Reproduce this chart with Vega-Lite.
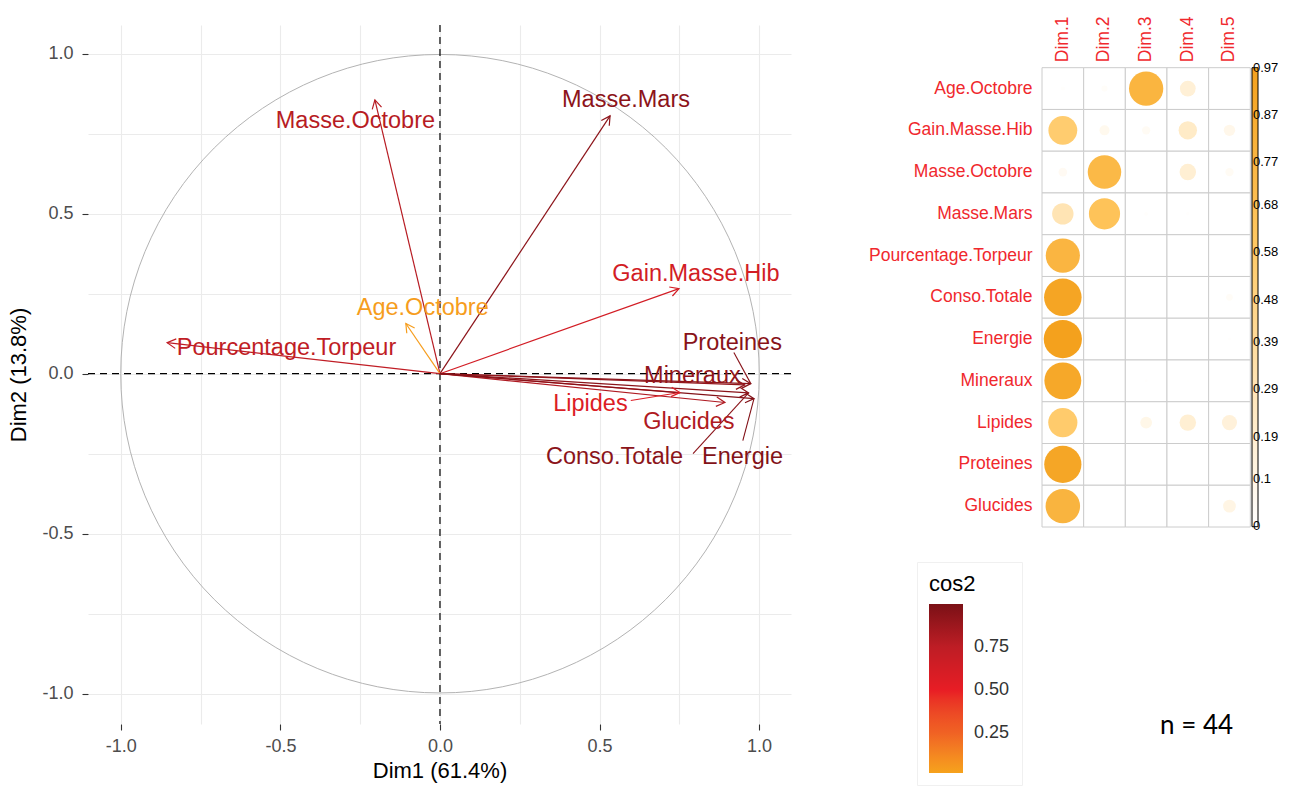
{
  "$schema": "https://vega.github.io/schema/vega-lite/v6.json",
  "background": "white",
  "padding": {"left": 7, "top": 16, "right": 5, "bottom": 2},
  "bounds": "flush",
  "spacing": 251,
  "config": {
    "view": {"stroke": null},
    "font": "Liberation Sans",
    "axis": {"labelFont": "Liberation Sans", "titleFont": "Liberation Sans"},
    "legend": {"labelFont": "Liberation Sans", "titleFont": "Liberation Sans"}
  },
  "resolve": {
    "scale": {"color": "independent", "size": "independent", "fill": "independent", "stroke": "independent"},
    "legend": {"color": "independent", "size": "independent", "fill": "independent", "stroke": "independent"}
  },
  "datasets": {
    "arrows": [
      {"name": "Masse.Octobre", "x": -0.204, "y": 0.856, "cos2": 0.775, "lx": -0.265, "ly": 0.791},
      {"name": "Masse.Mars", "x": 0.533, "y": 0.806, "cos2": 0.934, "lx": 0.583, "ly": 0.856},
      {"name": "Gain.Masse.Hib", "x": 0.749, "y": 0.266, "cos2": 0.632, "lx": 0.802, "ly": 0.3125},
      {"name": "Age.Octobre", "x": -0.107, "y": 0.157, "cos2": 0.036, "lx": -0.054, "ly": 0.206},
      {"name": "Pourcentage.Torpeur", "x": -0.855, "y": 0.097, "cos2": 0.74, "lx": -0.481, "ly": 0.081},
      {"name": "Proteines", "x": 0.974, "y": -0.031, "cos2": 0.95, "lx": 0.916, "ly": 0.097, "sx": 0.921, "sy": 0.066},
      {"name": "Mineraux", "x": 0.955, "y": -0.035, "cos2": 0.913, "lx": 0.791, "ly": -0.006},
      {"name": "Lipides", "x": 0.752, "y": -0.059, "cos2": 0.569, "lx": 0.4715, "ly": -0.094, "sx": 0.598, "sy": -0.084},
      {"name": "Glucides", "x": 0.893, "y": -0.09, "cos2": 0.805, "lx": 0.78, "ly": -0.15},
      {"name": "Conso.Totale", "x": 0.967, "y": -0.06, "cos2": 0.939, "lx": 0.547, "ly": -0.259, "sx": 0.793, "sy": -0.25},
      {"name": "Energie", "x": 0.984, "y": -0.078, "cos2": 0.974, "lx": 0.948, "ly": -0.259, "sx": 0.949, "sy": -0.209}
    ],
    "corr": [
      {"var": "Age.Octobre", "dim": "Dim.1", "value": 0.011},
      {"var": "Age.Octobre", "dim": "Dim.2", "value": 0.025},
      {"var": "Age.Octobre", "dim": "Dim.3", "value": 0.78},
      {"var": "Age.Octobre", "dim": "Dim.4", "value": 0.165},
      {"var": "Age.Octobre", "dim": "Dim.5", "value": 0},
      {"var": "Gain.Masse.Hib", "dim": "Dim.1", "value": 0.553},
      {"var": "Gain.Masse.Hib", "dim": "Dim.2", "value": 0.067},
      {"var": "Gain.Masse.Hib", "dim": "Dim.3", "value": 0.046},
      {"var": "Gain.Masse.Hib", "dim": "Dim.4", "value": 0.225},
      {"var": "Gain.Masse.Hib", "dim": "Dim.5", "value": 0.086},
      {"var": "Masse.Octobre", "dim": "Dim.1", "value": 0.05},
      {"var": "Masse.Octobre", "dim": "Dim.2", "value": 0.745},
      {"var": "Masse.Octobre", "dim": "Dim.3", "value": 0},
      {"var": "Masse.Octobre", "dim": "Dim.4", "value": 0.18},
      {"var": "Masse.Octobre", "dim": "Dim.5", "value": 0.046},
      {"var": "Masse.Mars", "dim": "Dim.1", "value": 0.305},
      {"var": "Masse.Mars", "dim": "Dim.2", "value": 0.646},
      {"var": "Masse.Mars", "dim": "Dim.3", "value": 0.01},
      {"var": "Masse.Mars", "dim": "Dim.4", "value": 0.008},
      {"var": "Masse.Mars", "dim": "Dim.5", "value": 0},
      {"var": "Pourcentage.Torpeur", "dim": "Dim.1", "value": 0.777},
      {"var": "Pourcentage.Torpeur", "dim": "Dim.2", "value": 0},
      {"var": "Pourcentage.Torpeur", "dim": "Dim.3", "value": 0},
      {"var": "Pourcentage.Torpeur", "dim": "Dim.4", "value": 0},
      {"var": "Pourcentage.Torpeur", "dim": "Dim.5", "value": 0},
      {"var": "Conso.Totale", "dim": "Dim.1", "value": 0.935},
      {"var": "Conso.Totale", "dim": "Dim.2", "value": 0},
      {"var": "Conso.Totale", "dim": "Dim.3", "value": 0},
      {"var": "Conso.Totale", "dim": "Dim.4", "value": 0},
      {"var": "Conso.Totale", "dim": "Dim.5", "value": 0.03},
      {"var": "Energie", "dim": "Dim.1", "value": 0.97},
      {"var": "Energie", "dim": "Dim.2", "value": 0},
      {"var": "Energie", "dim": "Dim.3", "value": 0},
      {"var": "Energie", "dim": "Dim.4", "value": 0},
      {"var": "Energie", "dim": "Dim.5", "value": 0.006},
      {"var": "Mineraux", "dim": "Dim.1", "value": 0.905},
      {"var": "Mineraux", "dim": "Dim.2", "value": 0},
      {"var": "Mineraux", "dim": "Dim.3", "value": 0.006},
      {"var": "Mineraux", "dim": "Dim.4", "value": 0.005},
      {"var": "Mineraux", "dim": "Dim.5", "value": 0},
      {"var": "Lipides", "dim": "Dim.1", "value": 0.565},
      {"var": "Lipides", "dim": "Dim.2", "value": 0},
      {"var": "Lipides", "dim": "Dim.3", "value": 0.092},
      {"var": "Lipides", "dim": "Dim.4", "value": 0.18},
      {"var": "Lipides", "dim": "Dim.5", "value": 0.151},
      {"var": "Proteines", "dim": "Dim.1", "value": 0.92},
      {"var": "Proteines", "dim": "Dim.2", "value": 0},
      {"var": "Proteines", "dim": "Dim.3", "value": 0},
      {"var": "Proteines", "dim": "Dim.4", "value": 0},
      {"var": "Proteines", "dim": "Dim.5", "value": 0},
      {"var": "Glucides", "dim": "Dim.1", "value": 0.79},
      {"var": "Glucides", "dim": "Dim.2", "value": 0},
      {"var": "Glucides", "dim": "Dim.3", "value": 0.003},
      {"var": "Glucides", "dim": "Dim.4", "value": 0.005},
      {"var": "Glucides", "dim": "Dim.5", "value": 0.108}
    ]
  },
  "hconcat": [
    {
      "width": 703,
      "height": 699,
      "data": {"name": "arrows"},
      "layer": [
        {
          "data": {"values": [{}]},
          "mark": {"type": "point", "shape": "circle", "filled": false, "size": 407682, "stroke": "#B3B3B3", "strokeWidth": 1, "opacity": 1},
          "encoding": {
            "x": {"datum": 0, "type": "quantitative"},
            "y": {"datum": 0, "type": "quantitative"}
          }
        },
        {
          "data": {"values": [{}]},
          "mark": {"type": "rule", "color": "black", "strokeDash": [7, 5], "strokeWidth": 1.2},
          "encoding": {"x": {"datum": 0, "type": "quantitative"}}
        },
        {
          "data": {"values": [{}]},
          "mark": {"type": "rule", "color": "black", "strokeDash": [7, 5], "strokeWidth": 1.2},
          "encoding": {"y": {"datum": 0, "type": "quantitative"}}
        },
        {
          "mark": {"type": "rule", "strokeWidth": 1.2},
          "encoding": {
            "x": {
              "field": "x", "type": "quantitative", "title": "Dim1 (61.4%)",
              "scale": {"domain": [-1.103, 1.1], "nice": false, "zero": false},
              "axis": {
                "values": [-1, -0.75, -0.5, -0.25, 0, 0.25, 0.5, 0.75, 1],
                "labelExpr": "datum.value % 0.5 == 0 ? replace(format(datum.value, '.1f'), '\u2212', '-') : ''",
                "grid": true, "gridColor": "#EBEBEB", "gridWidth": 1.1,
                "domain": false,
                "tickColor": {"condition": {"test": "datum.value % 0.5 == 0", "value": "#333333"}, "value": "transparent"},
                "tickSize": 6, "tickWidth": 1.1,
                "labelFontSize": 18, "labelColor": "#4D4D4D", "labelPadding": 7,
                "labelFlush": false, "labelOverlap": false,
                "titleFontSize": 22, "titleFontWeight": "normal", "titleColor": "black", "titlePadding": 5
              }
            },
            "y": {
              "field": "y", "type": "quantitative", "title": "Dim2 (13.8%)",
              "scale": {"domain": [-1.095, 1.09], "nice": false, "zero": false},
              "axis": {
                "values": [-1, -0.75, -0.5, -0.25, 0, 0.25, 0.5, 0.75, 1],
                "labelExpr": "datum.value % 0.5 == 0 ? replace(format(datum.value, '.1f'), '\u2212', '-') : ''",
                "grid": true, "gridColor": "#EBEBEB", "gridWidth": 1.1,
                "domain": false,
                "tickColor": {"condition": {"test": "datum.value % 0.5 == 0", "value": "#333333"}, "value": "transparent"},
                "tickSize": 6, "tickWidth": 1.1,
                "labelFontSize": 18, "labelColor": "#4D4D4D", "labelPadding": 9,
                "labelFlush": false, "labelOverlap": false,
                "titleFontSize": 22, "titleFontWeight": "normal", "titleColor": "black", "titlePadding": 11
              }
            },
            "x2": {"datum": 0},
            "y2": {"datum": 0},
            "stroke": {
              "field": "cos2", "type": "quantitative",
              "scale": {"domain": [0.017, 0.25, 0.5, 0.75, 1.0], "range": ["#F6A21C", "#F06224", "#E81D25", "#BE1D25", "#7B1116"], "interpolate": "lab"},
              "legend": null
            }
          }
        },
        {
          "transform": [{"calculate": "atan2(datum.x, datum.y) * 180 / PI", "as": "ang"}],
          "mark": {"type": "point", "shape": "M -0.55 1 L 0 0 L 0.55 1", "filled": false, "size": 300, "strokeWidth": 1.2, "opacity": 1},
          "encoding": {
            "x": {"field": "x", "type": "quantitative"},
            "y": {"field": "y", "type": "quantitative"},
            "angle": {"field": "ang", "type": "quantitative", "scale": null},
            "stroke": {"field": "cos2", "type": "quantitative", "legend": null}
          }
        },
        {
          "transform": [{"filter": "isValid(datum.sx)"}],
          "mark": {"type": "rule", "strokeWidth": 1.1},
          "encoding": {
            "x": {"field": "sx", "type": "quantitative"},
            "y": {"field": "sy", "type": "quantitative"},
            "x2": {"field": "x"},
            "y2": {"field": "y"},
            "stroke": {"field": "cos2", "type": "quantitative", "legend": null}
          }
        },
        {
          "mark": {"type": "text", "fontSize": 23.5, "font": "Liberation Sans", "baseline": "middle", "align": "center"},
          "encoding": {
            "x": {"field": "lx", "type": "quantitative"},
            "y": {"field": "ly", "type": "quantitative"},
            "text": {"field": "name"},
            "fill": {
              "field": "cos2", "type": "quantitative",
              "scale": {"domain": [0.0171, 0.25, 0.5, 0.75, 1.0], "range": ["#F6A21C", "#F06224", "#E81D25", "#BE1D25", "#7B1116"], "interpolate": "lab"},
              "legend": {
                "type": "gradient",
                "orient": "none", "legendX": 829, "legendY": 537, "direction": "vertical",
                "title": "cos2", "titleFontSize": 22, "titleFontWeight": "normal", "titleColor": "black", "titlePadding": 8,
                "gradientLength": 169, "gradientThickness": 34, "gradientStrokeWidth": 0,
                "values": [0.25, 0.5, 0.75], "format": ".2f",
                "labelFontSize": 18, "labelColor": "#333333", "labelOffset": 11, "labelOverlap": false,
                "padding": 12, "strokeColor": "#F0F0F0"
              }
            }
          }
        }
      ]
    },
    {
      "width": 208.3,
      "height": 502,
      "data": {"name": "corr"},
      "title": {"text": "n = 44", "orient": "bottom", "anchor": "start", "frame": "group", "baseline": "alphabetic", "dx": 118, "offset": 200, "font": "Lato", "fontSize": 26, "fontWeight": "normal", "color": "black"},
      "layer": [
        {
          "mark": {"type": "rect", "fill": "white", "stroke": "#CCCCCC", "strokeWidth": 1},
          "encoding": {
            "x": {
              "field": "dim", "type": "nominal", "sort": ["Dim.1", "Dim.2", "Dim.3", "Dim.4", "Dim.5"],
              "scale": {"paddingInner": 0, "paddingOuter": 0},
              "axis": {"orient": "top", "offset": -42.7, "labelAngle": -90, "labelColor": "#F0282D", "labelFontSize": 17.5, "labelPadding": 6, "ticks": false, "domain": false, "title": null}
            },
            "y": {
              "field": "var", "type": "nominal",
              "sort": ["Age.Octobre", "Gain.Masse.Hib", "Masse.Octobre", "Masse.Mars", "Pourcentage.Torpeur", "Conso.Totale", "Energie", "Mineraux", "Lipides", "Proteines", "Glucides"],
              "scale": {"range": [42.7, 502], "paddingInner": 0, "paddingOuter": 0},
              "axis": {"labelColor": "#F0282D", "labelFontSize": 17.5, "labelPadding": 10, "ticks": false, "domain": false, "title": null}
            }
          }
        },
        {
          "mark": {"type": "point", "shape": "circle", "filled": true, "opacity": 1},
          "encoding": {
            "x": {"field": "dim", "type": "nominal", "sort": ["Dim.1", "Dim.2", "Dim.3", "Dim.4", "Dim.5"]},
            "y": {"field": "var", "type": "nominal", "sort": ["Age.Octobre", "Gain.Masse.Hib", "Masse.Octobre", "Masse.Mars", "Pourcentage.Torpeur", "Conso.Totale", "Energie", "Mineraux", "Lipides", "Proteines", "Glucides"]},
            "size": {"field": "value", "type": "quantitative", "scale": {"domain": [0, 0.97], "range": [0, 1460]}, "legend": null},
            "color": {
              "field": "value", "type": "quantitative",
              "scale": {"domain": [-0.0005, 0.3, 0.6, 0.9705], "range": ["#FFFFFF", "#FFE4B5", "#FFC862", "#F4A11D"], "interpolate": "rgb"},
              "legend": {
                "type": "gradient",
                "orient": "none", "legendX": 210, "legendY": 42.7, "direction": "vertical", "title": null,
                "gradientLength": 459, "gradientThickness": 6, "gradientStrokeColor": "black", "gradientStrokeWidth": 1,
                "values": [0, 0.1, 0.19, 0.29, 0.39, 0.48, 0.58, 0.68, 0.77, 0.87, 0.97], "format": ".2~f",
                "labelFontSize": 13, "labelColor": "black", "labelOffset": -5, "labelOverlap": false, "labelBaseline": "middle"
              }
            }
          }
        }
      ]
    }
  ]
}
